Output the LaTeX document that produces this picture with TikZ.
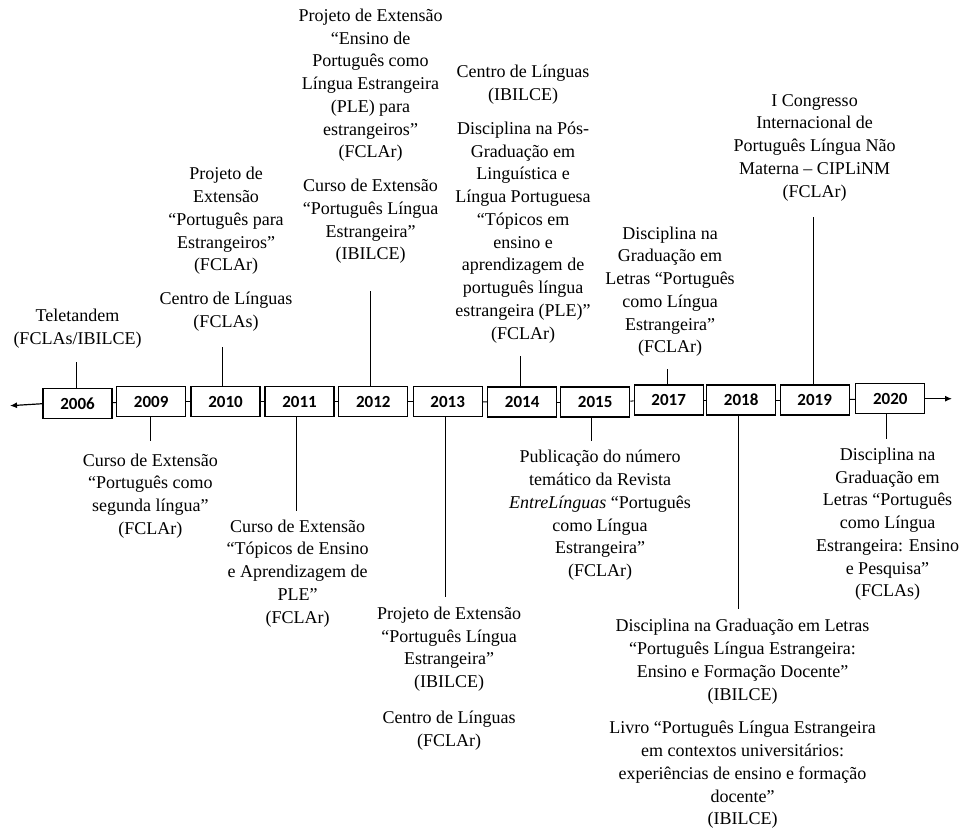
\documentclass[tikz,border=0pt]{standalone}
\usepackage{fontspec}
\setmainfont{Liberation Serif}
\newfontfamily\evtfont{Liberation Serif}
\newfontfamily\yearfont{Carlito}
\usetikzlibrary{arrows.meta}
\begin{document}
\begin{tikzpicture}[x=1pt,y=-1pt,
  evt/.style={inner sep=0pt, align=center, font=\evtfont\fontsize{18}{22.75}\selectfont},
  yearbox/.style={draw, line width=1.2pt, minimum width=69pt, minimum height=30pt, inner sep=0pt, font=\yearfont\bfseries\fontsize{17}{19}\selectfont},
  conn/.style={line width=1pt},
  tl/.style={line width=1.2pt, -{Latex[length=7pt,width=6pt]}}]
\useasboundingbox (0,0) rectangle (964,831);
% year boxes
\node[yearbox] (y2006) at (77.5,403.7) {2006};
\node[yearbox] (y2009) at (151.2,401.7) {2009};
\node[yearbox] (y2010) at (225.5,401.7) {2010};
\node[yearbox] (y2011) at (299.5,401.7) {2011};
\node[yearbox] (y2012) at (373.3,401.7) {2012};
\node[yearbox] (y2013) at (447.7,401.7) {2013};
\node[yearbox] (y2014) at (522.2,402) {2014};
\node[yearbox] (y2015) at (595.2,402) {2015};
\node[yearbox] (y2017) at (668.7,400) {2017};
\node[yearbox] (y2018) at (741.2,400) {2018};
\node[yearbox] (y2019) at (814.7,400) {2019};
\node[yearbox] (y2020) at (890.3,398.7) {2020};
\coordinate (lend) at (10,405.7);
\coordinate (rend) at (952,398.7);
\draw[conn] (y2006) -- (y2009);
\draw[conn] (y2009) -- (y2010);
\draw[conn] (y2010) -- (y2011);
\draw[conn] (y2011) -- (y2012);
\draw[conn] (y2012) -- (y2013);
\draw[conn] (y2013) -- (y2014);
\draw[conn] (y2014) -- (y2015);
\draw[conn] (y2015) -- (y2017);
\draw[conn] (y2017) -- (y2018);
\draw[conn] (y2018) -- (y2019);
\draw[conn] (y2019) -- (y2020);
\draw[tl] (y2006.west) -- (lend);
\draw[tl] (y2020.east) -- (rend);
% events above
\node[evt] (t2006) at (77.5,328.3) {Teletandem\\(FCLAs/IBILCE)};
\node[evt] (t2010) at (226,249.2) {Projeto de\\Extensão\\“Português para\\Estrangeiros”\\(FCLAr)\\[11pt]Centro de Línguas\\(FCLAs)};
\node[evt] (t2012) at (370.5,136.3) {Projeto de Extensão\\“Ensino de\\Português como\\Língua Estrangeira\\(PLE) para\\estrangeiros”\\(FCLAr)\\[11pt]Curso de Extensão\\“Português Língua\\Estrangeira”\\(IBILCE)};
\node[evt] (t2014) at (523,204.2) {Centro de Línguas\\(IBILCE)\\[11pt]Disciplina na Pós-\\Graduação em\\Linguística e\\Língua Portuguesa\\“Tópicos em\\ensino e\\aprendizagem de\\português língua\\estrangeira (PLE)”\\(FCLAr)};
\node[evt] (t2017) at (670,291.7) {Disciplina na\\Graduação em\\Letras “Português\\como Língua\\Estrangeira”\\(FCLAr)};
\node[evt] (t2019) at (814.5,147.5) {I Congresso\\Internacional de\\Português Língua Não\\Materna – CIPLiNM\\(FCLAr)};
% events below
\node[evt] (b2009) at (150.3,495.8) {Curso de Extensão\\“Português como\\segunda língua”\\(FCLAr)};
\node[evt] (b2011) at (297.7,573.3) {Curso de Extensão\\“Tópicos de Ensino\\e Aprendizagem de\\PLE”\\(FCLAr)};
\node[evt] (b2013) at (449,678.3) {Projeto de Extensão\\“Português Língua\\Estrangeira”\\(IBILCE)\\[13pt]Centro de Línguas\\(FCLAr)};
\node[evt] (b2015) at (600,515.5) {Publicação do número\\temático da Revista\\\textit{EntreLínguas} “Português\\como Língua\\Estrangeira”\\(FCLAr)};
\node[evt] (b2018) at (742.5,724) {Disciplina na Graduação em Letras\\“Português Língua Estrangeira:\\Ensino e Formação Docente”\\(IBILCE)\\[11pt]Livro “Português Língua Estrangeira\\em contextos universitários:\\experiências de ensino e formação\\docente”\\(IBILCE)};
\node[evt] (b2020) at (887.5,524.3) {Disciplina na\\Graduação em\\Letras “Português\\como Língua\\Estrangeira: Ensino\\e Pesquisa”\\(FCLAs)};
% connectors above
\draw[conn] ([xshift=-1.5pt]y2006.north) -- ++(0,-25.7);
\draw[conn] ([xshift=-3.5pt]y2010.north) -- ++(0,-38.7);
\draw[conn] ([xshift=-2.6pt]y2012.north) -- ++(0,-95);
\draw[conn] ([xshift=-2.2pt]y2014.north) -- ++(0,-30.3);
\draw[conn] ([xshift=-1.4pt]y2017.north) -- ++(0,-15);
\draw[conn] ([xshift=-1.4pt]y2019.north) -- ++(0,-167);
% connectors below
\draw[conn] ([xshift=-1.2pt]y2009.south) -- ++(0,23.3);
\draw[conn] ([xshift=-3.5pt]y2011.south) -- ++(0,94);
\draw[conn] ([xshift=-2.7pt]y2013.south) -- ++(0,180);
\draw[conn] ([xshift=-3.5pt]y2015.south) -- ++(0,23);
\draw[conn] ([xshift=-2.9pt]y2018.south) -- ++(0,193.3);
\draw[conn] ([xshift=-3.6pt]y2020.south) -- ++(0,24.6);
\end{tikzpicture}
\end{document}
